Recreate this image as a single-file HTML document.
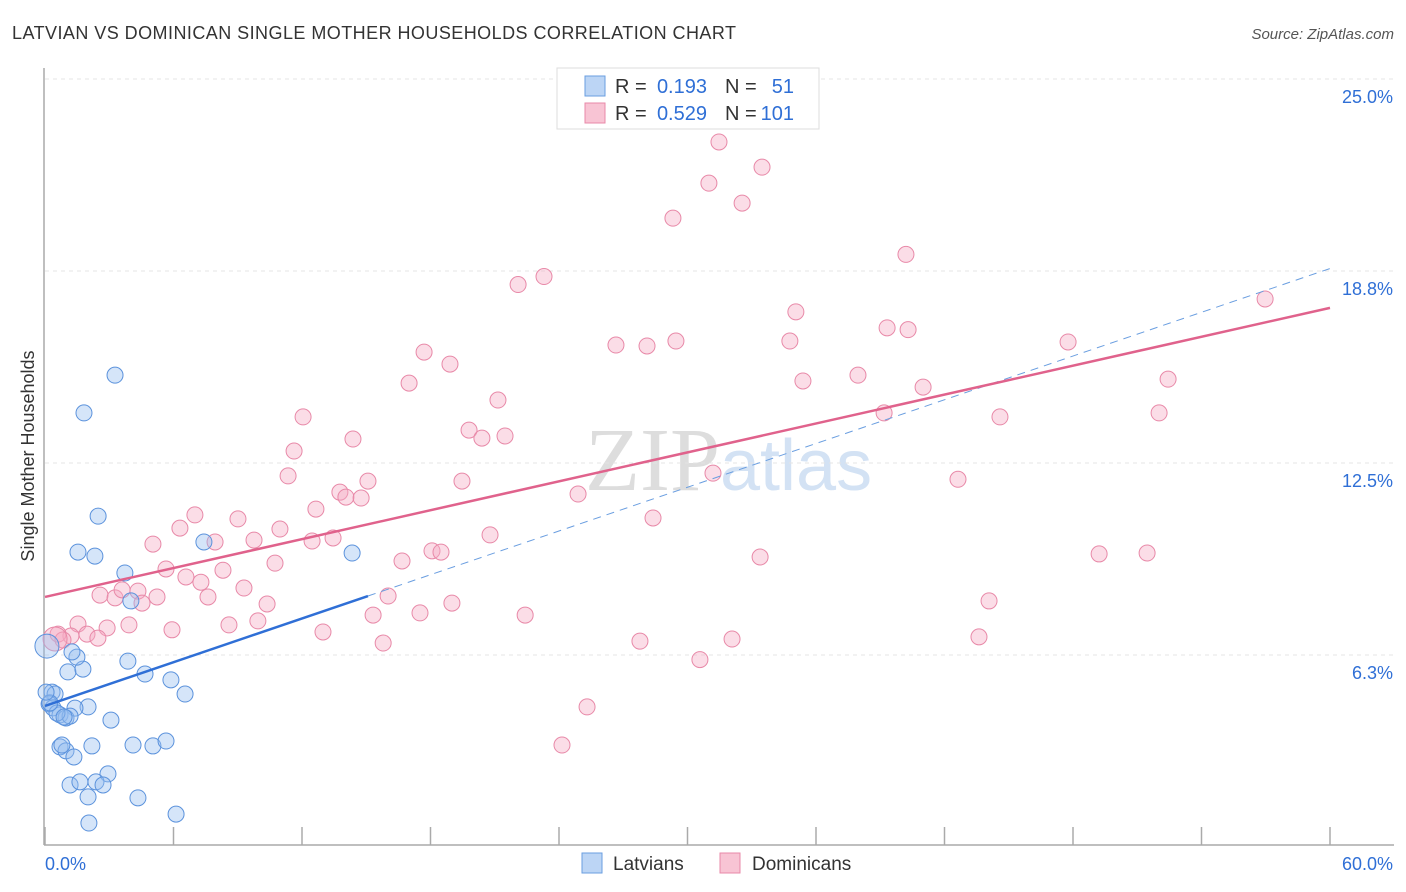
<!DOCTYPE html>
<html><head><meta charset="utf-8"><style>
body{margin:0;background:#fff;font-family:"Liberation Sans",sans-serif}
svg{display:block}
</style></head><body>
<svg width="1406" height="892">
<text x="12" y="39" font-size="18" fill="#333" letter-spacing="0.45">LATVIAN VS DOMINICAN SINGLE MOTHER HOUSEHOLDS CORRELATION CHART</text>
<text x="1394" y="39" font-size="15" fill="#555" font-style="italic" text-anchor="end">Source: ZipAtlas.com</text>
<text x="0" y="0" transform="translate(34,456) rotate(-90)" font-size="18" fill="#333" text-anchor="middle">Single Mother Households</text>
<text x="720" y="490" font-size="90" fill="#ddd" text-anchor="end" font-family="Liberation Serif,serif">ZIP</text>
<text x="720" y="490" font-size="72" fill="#d3e2f4">atlas</text>
<g id="grid"></g><g id="axes"></g><g id="pts"></g><g id="lines"></g>
<g>
<rect x="557" y="68" width="262" height="61" fill="#fff" stroke="#ddd"/>
<rect x="585" y="76" width="20" height="20" fill="#bcd5f5" stroke="#6a9ee0"/>
<rect x="585" y="103" width="20" height="20" fill="#f8c4d4" stroke="#e889a8"/>
<text x="615" y="93" font-size="20" fill="#333">R =</text>
<text x="707" y="93" font-size="20" fill="#2f6fd6" text-anchor="end">0.193</text>
<text x="725" y="93" font-size="20" fill="#333">N =</text>
<text x="794" y="93" font-size="20" fill="#2f6fd6" text-anchor="end">51</text>
<text x="615" y="120" font-size="20" fill="#333">R =</text>
<text x="707" y="120" font-size="20" fill="#2f6fd6" text-anchor="end">0.529</text>
<text x="725" y="120" font-size="20" fill="#333">N =</text>
<text x="794" y="120" font-size="20" fill="#2f6fd6" text-anchor="end">101</text>
</g>
<g>
<rect x="582" y="853" width="20" height="20" fill="#bcd5f5" stroke="#6a9ee0"/>
<text x="613" y="870" font-size="19" fill="#333">Latvians</text>
<rect x="720" y="853" width="20" height="20" fill="#f8c4d4" stroke="#e889a8"/>
<text x="752" y="870" font-size="19" fill="#333">Dominicans</text>
</g>
</svg>
<script>
const yTicks=[6.25,12.5,18.75,25];
const yTickLabels=["6.3%","12.5%","18.8%","25.0%"];
const xTickVals=[0,6,12,18,24,30,36,42,48,54,60];
const latX=[3.27,1.82,2.48,1.54,2.33,3.73,4.01,7.42,14.34,3.87,4.67,1.07,1.77,1.49,1.26,5.88,6.54,0.33,0.47,0.19,0.37,2.01,1.40,0.70,0.98,1.17,3.08,0.70,0.98,2.19,4.11,5.04,5.65,1.35,2.94,2.38,2.71,1.17,1.63,2.01,4.34,2.05,6.12,0.09,0.79,0.56,0.23,0.05,0.89];
const latY=[15.36,14.13,10.77,9.60,9.47,8.92,8.01,9.93,9.57,6.05,5.63,5.70,5.79,6.18,6.35,5.44,4.98,5.04,4.98,4.66,4.53,4.56,4.52,4.30,4.20,4.26,4.13,3.26,3.13,3.29,3.32,3.29,3.45,2.93,2.38,2.12,2.02,2.02,2.12,1.63,1.60,0.78,1.07,6.54,3.32,4.36,4.69,5.04,4.23];
const domX=[31.47,33.48,31.0,32.55,29.32,40.20,23.30,22.09,56.97,35.06,39.32,40.30,29.46,26.66,28.11,34.78,47.77,17.70,18.91,17.00,35.39,37.96,52.44,41.0,21.15,12.05,39.18,44.59,52.02,19.80,20.40,21.48,14.38,11.63,11.35,31.19,19.47,15.08,13.77,14.05,14.76,24.89,42.63,7.00,6.30,9.01,12.65,10.97,28.39,20.78,5.04,7.94,9.76,12.47,13.45,18.07,18.49,16.67,49.22,51.46,33.39,5.65,8.31,10.74,6.58,7.28,9.29,2.57,3.27,3.60,4.34,4.53,5.23,7.61,16.02,10.37,44.08,19.00,15.32,17.51,22.42,8.59,9.94,3.92,2.90,5.93,1.54,1.96,1.21,2.47,0.61,0.84,12.98,15.79,27.78,32.08,43.61,30.58,25.31,24.14,0.47];
const domY=[22.95,22.13,21.61,20.96,20.47,19.29,18.57,18.31,17.84,17.42,16.90,16.84,16.47,16.34,16.31,16.47,16.44,16.11,15.72,15.10,15.17,15.36,15.23,14.97,14.55,14.00,14.13,14.00,14.13,13.57,13.31,13.38,13.28,12.89,12.08,12.17,11.91,11.91,11.55,11.39,11.36,11.49,11.97,10.81,10.38,10.68,11.00,10.35,10.71,10.16,9.86,9.93,9.99,9.96,10.06,9.64,9.60,9.31,9.54,9.57,9.44,9.05,9.01,9.24,8.79,8.62,8.43,8.20,8.11,8.37,8.33,7.94,8.14,8.14,8.17,7.91,8.01,7.94,7.55,7.62,7.55,7.23,7.36,7.23,7.13,7.07,7.26,6.93,6.87,6.80,6.93,6.74,7.00,6.64,6.70,6.77,6.84,6.10,4.56,3.32,6.77];
const latTrend=[[0,4.59],[15.08,8.17]];
const latDash=[[15.08,8.17],[60,18.83]];
const domTrend=[[0,8.14],[60,17.55]];
const X=v=>45+v/60*1285, Y=v=>847-v/6.25*192;
const NS="http://www.w3.org/2000/svg";
function mk(t,a,p){const e=document.createElementNS(NS,t);for(const k in a)e.setAttribute(k,a[k]);p.appendChild(e);return e;}
const grid=document.getElementById('grid'),axes=document.getElementById('axes'),pts=document.getElementById('pts'),lines=document.getElementById('lines');
yTicks.forEach((v,i)=>{
 const g=mk('line',{x1:45,x2:1394,y1:Y(v),y2:Y(v),stroke:'#e4e4e4','stroke-dasharray':'4,4'},grid);
 
 
 const t=mk('text',{x:1393,y:Y(v)+24,'font-size':18,fill:'#2f6fd6','text-anchor':'end'},axes);
 t.textContent=yTickLabels[i];
 
 
});
mk('line',{x1:44,x2:44,y1:68,y2:845,stroke:'#aaa','stroke-width':1.5},axes);
mk('line',{x1:44,x2:1394,y1:845,y2:845,stroke:'#aaa','stroke-width':1.5},axes);
xTickVals.forEach(v=>{const l=mk('line',{x1:X(v),x2:X(v),y1:827,y2:845,stroke:'#aaa','stroke-width':1.5},axes);
 
 });
const x0=mk('text',{x:45,y:870,'font-size':18,fill:'#2f6fd6'},axes);x0.textContent='0.0%';


const x1=mk('text',{x:1393,y:870,'font-size':18,fill:'#2f6fd6','text-anchor':'end'},axes);x1.textContent='60.0%';


domX.forEach((v,i)=>{const c=mk('circle',{cx:X(v),cy:Y(domY[i]),r:i==domX.length-1?12:8,fill:'rgba(244,170,195,0.4)',stroke:'#e889a8','stroke-width':1},pts);
 
 });
latX.forEach((v,i)=>{const c=mk('circle',{cx:X(v),cy:Y(latY[i]),r:i==43?12:8,fill:'rgba(150,190,240,0.4)',stroke:'#5b92dc','stroke-width':1},pts);
 
 });
function ln(p,a){return mk('line',Object.assign({x1:X(p[0][0]),y1:Y(p[0][1]),x2:X(p[1][0]),y2:Y(p[1][1])},a),lines);}
const d=ln(latDash,{stroke:'#6a9ee0','stroke-width':1,'stroke-dasharray':'8,6'});


const p=ln(domTrend,{stroke:'#e0628c','stroke-width':2.5});


const b=ln(latTrend,{stroke:'#2f6fd6','stroke-width':2.5});


</script>
</body></html>
